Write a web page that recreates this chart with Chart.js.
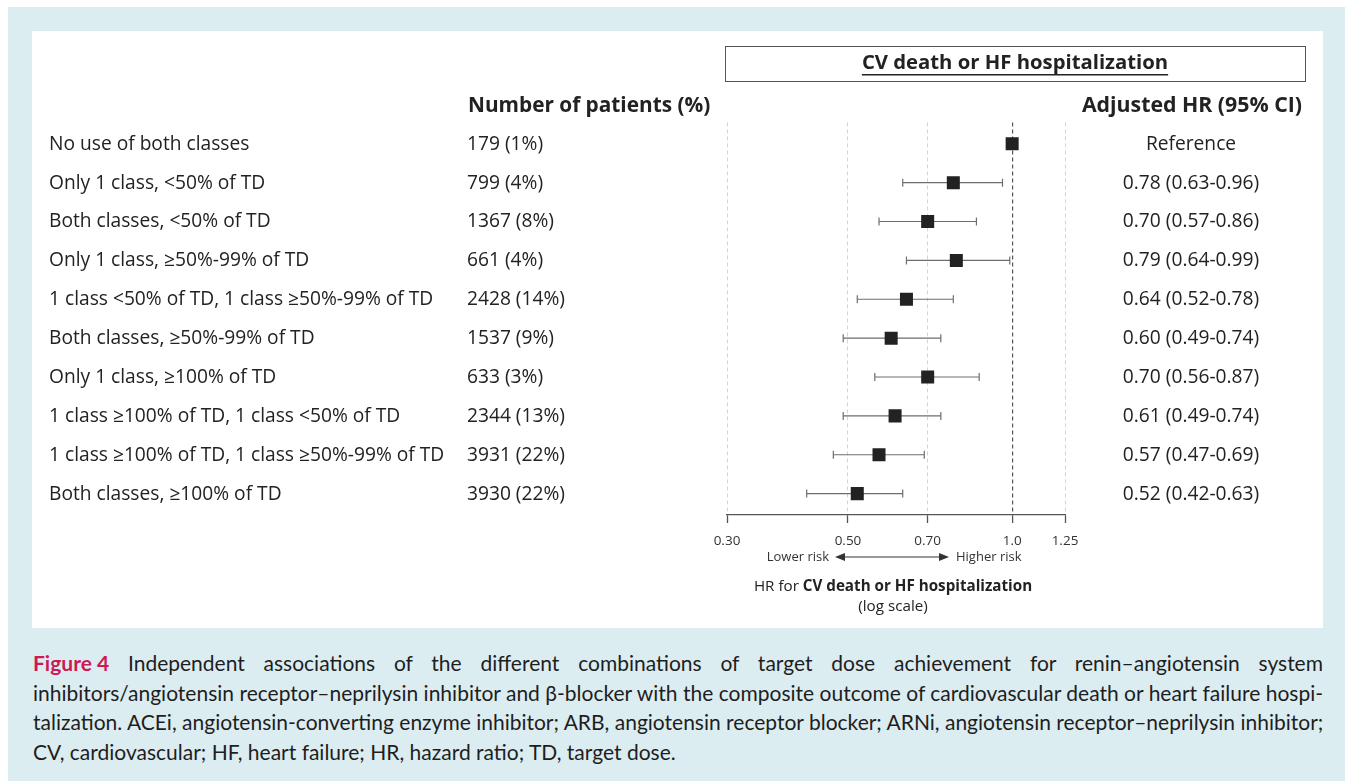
<!DOCTYPE html>
<html><head><meta charset="utf-8">
<script src="https://cdn.jsdelivr.net/npm/chart.js@4.4.0/dist/chart.umd.min.js"></script>
<style>
html,body{margin:0;padding:0;background:#fff;width:1345px;height:781px;overflow:hidden;}
#bg{position:absolute;left:8px;top:7px;right:0;bottom:0;background:#dcedf2;}
#panel{position:absolute;left:32px;top:31px;width:1291px;height:597px;background:#fff;}
#chart{position:absolute;left:0;top:0;}
#caption{position:absolute;left:33px;top:648px;width:1290px;font-family:Lato,'Open Sans',sans-serif;font-size:21px;color:#1e1e1e;line-height:29.5px;}
.ln{text-align:justify;text-align-last:justify;white-space:nowrap;}
.last{text-align:left;text-align-last:left;}
.fig{color:#cc1a55;font-weight:bold;display:inline-block;}
</style>
</head><body>
<div id="bg"></div>
<div id="panel"><canvas id="chart" width="1291" height="597"></canvas></div>
<div id="caption">
<div class="ln"><span class="fig">Figure 4</span> Independent associations of the different combinations of target dose achievement for renin&#8211;angiotensin system</div>
<div class="ln">inhibitors/angiotensin receptor&#8211;neprilysin inhibitor and &#946;-blocker with the composite outcome of cardiovascular death or heart failure hospi-</div>
<div class="ln">talization. ACEi, angiotensin-converting enzyme inhibitor; ARB, angiotensin receptor blocker; ARNi, angiotensin receptor&#8211;neprilysin inhibitor;</div>
<div class="ln last">CV, cardiovascular; HF, heart failure; HR, hazard ratio; TD, target dose.</div>
</div>
<script>
const categories = [
  'No use of both classes',
  'Only 1 class, <50% of TD',
  'Both classes, <50% of TD',
  'Only 1 class, \u226550%-99% of TD',
  '1 class <50% of TD, 1 class \u226550%-99% of TD',
  'Both classes, \u226550%-99% of TD',
  'Only 1 class, \u2265100% of TD',
  '1 class \u2265100% of TD, 1 class <50% of TD',
  '1 class \u2265100% of TD, 1 class \u226550%-99% of TD',
  'Both classes, \u2265100% of TD'
];
const patients = ['179 (1%)','799 (4%)','1367 (8%)','661 (4%)','2428 (14%)','1537 (9%)','633 (3%)','2344 (13%)','3931 (22%)','3930 (22%)'];
const hr     = [1.00, 0.78, 0.70, 0.79, 0.64, 0.60, 0.70, 0.61, 0.57, 0.52];
const ciLow  = [null, 0.63, 0.57, 0.64, 0.52, 0.49, 0.56, 0.49, 0.47, 0.42];
const ciHigh = [null, 0.96, 0.86, 0.99, 0.78, 0.74, 0.87, 0.74, 0.69, 0.63];
const hrLabels = ['Reference','0.78 (0.63-0.96)','0.70 (0.57-0.86)','0.79 (0.64-0.99)','0.64 (0.52-0.78)','0.60 (0.49-0.74)','0.70 (0.56-0.87)','0.61 (0.49-0.74)','0.57 (0.47-0.69)','0.52 (0.42-0.63)'];
const xTicks = [0.30, 0.50, 0.70, 1.0, 1.25];
const xTickLabels = ['0.30','0.50','0.70','1.0','1.25'];

const FONT = "'Open Sans', sans-serif";
const TXT = '#222';

const forestPlugin = {
  id: 'forest',
  beforeDatasetsDraw(chart) {
    const {ctx, scales: {x, y}} = chart;
    ctx.save();
    ctx.strokeStyle = '#6e6e6e';
    ctx.lineWidth = 1.2;
    ciLow.forEach((lo, i) => {
      if (lo == null) return;
      const py = y.getPixelForValue(i);
      const x1 = x.getPixelForValue(lo), x2 = x.getPixelForValue(ciHigh[i]);
      ctx.beginPath();
      ctx.moveTo(x1, py); ctx.lineTo(x2, py);
      ctx.moveTo(x1, py - 4); ctx.lineTo(x1, py + 4);
      ctx.moveTo(x2, py - 4); ctx.lineTo(x2, py + 4);
      ctx.stroke();
    });
    ctx.restore();
  },
  afterDraw(chart) {
    const {ctx, scales: {x, y}, chartArea} = chart;
    ctx.save();
    ctx.fillStyle = TXT;
    ctx.textBaseline = 'middle';
    ctx.font = '19.2px ' + FONT;
    categories.forEach((c, i) => {
      const py = y.getPixelForValue(i) + 0.5;
      ctx.textAlign = 'left';
      ctx.fillText(c, 17, py);
      ctx.fillText(patients[i], 435, py);
      ctx.textAlign = 'center';
      ctx.fillText(hrLabels[i], 1159, py);
    });
    // column headers
    ctx.font = 'bold 20.8px ' + FONT;
    ctx.textAlign = 'left';
    ctx.fillText('Number of patients (%)', 436, 75);
    ctx.textAlign = 'right';
    ctx.font = 'bold 21.3px ' + FONT;
    ctx.fillText('Adjusted HR (95% CI)', 1270, 75);
    // title box
    ctx.strokeStyle = '#555';
    ctx.lineWidth = 1;
    ctx.strokeRect(693.5, 15.5, 580, 35);
    ctx.font = 'bold 20.3px ' + FONT;
    ctx.textAlign = 'center';
    const title = 'CV death or HF hospitalization';
    ctx.fillText(title, 983, 32.5);
    const tw = ctx.measureText(title).width;
    ctx.fillRect(983 - tw / 2, 43, tw, 1.5);
    // direction annotation
    const cx = (chartArea.left + chartArea.right) / 2 - 4;
    const ay = 526;
    ctx.font = '13px ' + FONT;
    ctx.fillStyle = '#333';
    ctx.textAlign = 'right';
    ctx.fillText('Lower risk', cx - 63, ay);
    ctx.textAlign = 'left';
    ctx.fillText('Higher risk', cx + 64, ay);
    ctx.strokeStyle = '#333';
    ctx.lineWidth = 1.2;
    ctx.beginPath();
    ctx.moveTo(cx - 50, ay); ctx.lineTo(cx + 50, ay); ctx.stroke();
    ctx.beginPath();
    ctx.moveTo(cx - 57, ay); ctx.lineTo(cx - 47, ay - 4); ctx.lineTo(cx - 47, ay + 4); ctx.closePath(); ctx.fill();
    ctx.beginPath();
    ctx.moveTo(cx + 57, ay); ctx.lineTo(cx + 47, ay - 4); ctx.lineTo(cx + 47, ay + 4); ctx.closePath(); ctx.fill();
    // axis title
    ctx.fillStyle = TXT;
    const p1 = 'HR for ', p2 = 'CV death or HF hospitalization';
    ctx.font = '15.2px ' + FONT; const w1 = ctx.measureText(p1).width;
    ctx.font = 'bold 15.2px ' + FONT; const w2 = ctx.measureText(p2).width;
    const sx = cx + 1 - (w1 + w2) / 2;
    ctx.textAlign = 'left';
    ctx.font = '15.2px ' + FONT; ctx.fillText(p1, sx, 555.5);
    ctx.font = 'bold 15.2px ' + FONT; ctx.fillText(p2, sx + w1, 555.5);
    ctx.font = '15.2px ' + FONT; ctx.textAlign = 'center';
    ctx.fillText('(log scale)', cx + 1, 576);
    ctx.restore();
  }
};

new Chart(document.getElementById('chart'), {
  type: 'scatter',
  data: {
    datasets: [{
      data: hr.map((v, i) => ({x: v, y: i})),
      pointStyle: 'rect',
      pointRadius: 9.2,
      backgroundColor: '#222',
      borderColor: '#222',
      borderWidth: 0
    }]
  },
  options: {
    responsive: false,
    animation: false,
    events: [],
    layout: {padding: {left: 695, right: 258, top: 91.4, bottom: 73}},
    plugins: {legend: {display: false}, tooltip: {enabled: false}},
    scales: {
      x: {
        type: 'logarithmic',
        min: 0.3, max: 1.25,
        afterBuildTicks: s => { s.ticks = xTicks.map(v => ({value: v})); },
        afterFit: s => { s.height = 40; },
        ticks: {
          callback: (v, i) => xTickLabels[i],
          font: {family: 'Open Sans', size: 13.5},
          color: '#333', padding: 10, maxRotation: 0, autoSkip: false
        },
        grid: {
          color: c => (c.tick && c.tick.value === 1) ? '#555' : '#d4d4d4',
          lineWidth: c => (c.tick && c.tick.value === 1) ? 1.2 : 1,
          tickColor: '#555', tickLength: 8, tickWidth: 1.3, tickBorderDash: []
        },
        border: {display: true, color: '#555', width: 1.3, dash: [4, 3]}
      },
      y: {type: 'linear', reverse: true, min: -0.55, max: 9.55, display: false}
    }
  },
  plugins: [forestPlugin]
});
</script>
</body></html>
